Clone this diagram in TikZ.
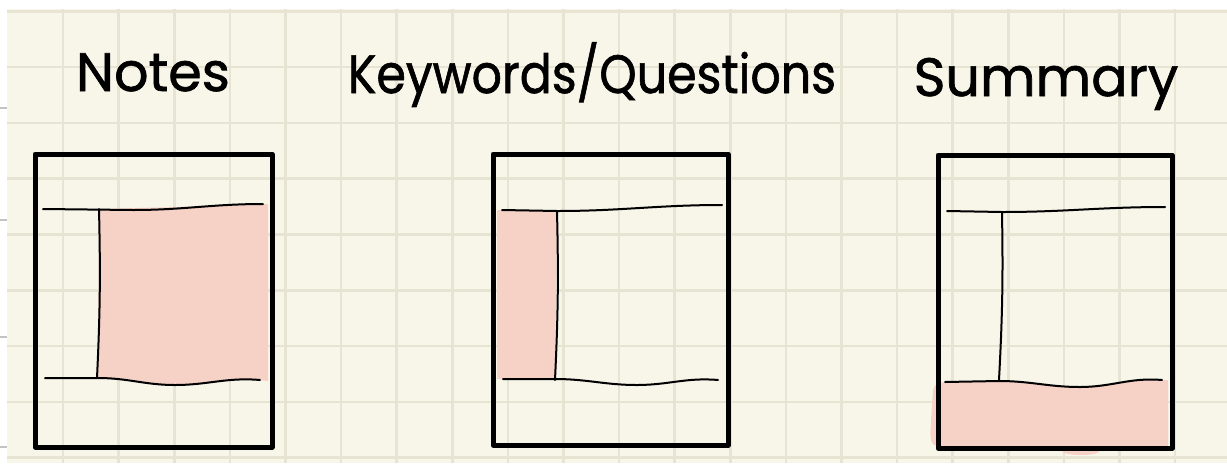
\documentclass[tikz,border=0pt]{standalone}
\usepackage{fontspec}
\setmainfont{Poppins}
\newfontfamily\handfont{Poppins}[FakeBold=1.2]
\definecolor{paper}{RGB}{248,245,233}
\definecolor{gridc}{RGB}{231,228,212}
\definecolor{pinkhl}{RGB}{245,209,198}
\definecolor{marginc}{RGB}{195,195,195}
\newcommand{\narrow}[1]{\scalebox{0.88}[1]{#1}}
\begin{document}
\begin{tikzpicture}[x=0.5pt, y=-0.5pt, font=\handfont\fontsize{27}{30}\selectfont]
    % Styles
    \tikzstyle{grid line}=[draw=gridc, line width=1.3pt]
    \tikzstyle{frame line}=[draw=black, line width=2.5pt, line join=round]
    \tikzstyle{pen line}=[draw=black, line width=1pt, line cap=round, line join=round]
    \tikzstyle{highlight}=[fill=pinkhl]
    \tikzstyle{title}=[anchor=base, inner sep=0pt]

    \useasboundingbox (0,0) rectangle (1227,467);

    % --- Paper and grid ---
    \fill[white] (0,0) rectangle (1227,467);
    \fill[paper] (7,9) rectangle (1227,463);
    \foreach \i in {0,...,20} \draw[grid line] (63+55.6*\i,9) -- (63+55.6*\i,463);
    \foreach \j in {-1,...,7} \draw[grid line] (7,67+55.8*\j) -- (1227,67+55.8*\j);
    % margin ticks
    \foreach \y in {108,220,337,447} \draw[marginc, line width=0.8pt] (0,\y) -- (7,\y);

    % --- Titles ---
    \node[title] (notes) at (153,91) {Notes};
    \node[title] (keywords) at (592,93) {\narrow{Keywords/Questions}};
    \node[title] (summary) at (1046,96) {Summary};

    % --- Notes page: right column highlighted ---
    \fill[highlight] (99,209) -- (180,207) -- (268,204) -- (268,381)
        -- (260,380) to[out=175,in=0] (175,385) to[out=180,in=0] (98,378) -- cycle;
    \draw[pen line] (43,209) -- (133,210) to[out=0,in=180] (263,204);
    \draw[pen line] (45,378) -- (98,378) to[out=0,in=180] (175,385) to[out=0,in=175] (260,380);
    \draw[pen line] (99,209) to[bend left=2] (97,378);
    \draw[frame line] (35,154) rectangle (272,447);

    % --- Keywords page: left column highlighted ---
    \fill[highlight] (497,210) -- (557,211) -- (555,380) -- (497,379) -- cycle;
    \draw[pen line] (502,210) -- (557,211) to[out=0,in=180] (722,205);
    \draw[pen line] (503,379) -- (555,379) to[out=0,in=180] (637,385) to[out=0,in=175] (718,380);
    \draw[pen line] (557,211) to[bend left=2] (555,380);
    \draw[frame line] (493,154) rectangle (728,445);

    % --- Summary page: bottom strip highlighted ---
    \fill[highlight] (933,390) to[out=80,in=180] (945,382) -- (999,381)
        to[out=0,in=180] (1080,387) to[out=0,in=175] (1162,380) -- (1168,380)
        -- (1168,446) -- (1100,447) to[out=-60,in=0] (1082,455) to[out=180,in=-120] (1062,447)
        -- (938,446) to[out=180,in=-90] (931,420) -- cycle;
    \draw[pen line] (947,211) -- (1002,212) to[out=0,in=180] (1165,207);
    \draw[pen line] (945,382) -- (999,381) to[out=0,in=180] (1080,387) to[out=0,in=175] (1162,380);
    \draw[pen line] (1002,212) to[bend left=2] (999,380);
    \draw[frame line] (938,155) rectangle (1172,448);
\end{tikzpicture}
\end{document}
